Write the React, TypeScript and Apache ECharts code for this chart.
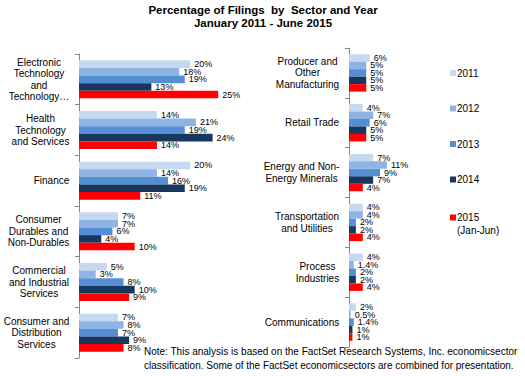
import React, { useEffect, useRef } from "react";
import * as echarts from "echarts";

const FONT = "Liberation Sans, Arial, sans-serif";

const years = ["2011", "2012", "2013", "2014", "2015 (Jan-Jun)"];
const colors = ["#C6D9F1", "#8EB4E3", "#558ED5", "#17375E", "#FF0000"];

const leftCategories = [
  "Electronic\nTechnology\nand\nTechnology…",
  "Health\nTechnology\nand Services",
  "Finance",
  "Consumer\nDurables and\nNon-Durables",
  "Commercial\nand Industrial\nServices",
  "Consumer and\nDistribution\nServices",
];
const left2011 = [20, 14, 20, 7, 5, 7];
const left2012 = [18, 21, 14, 7, 3, 8];
const left2013 = [19, 19, 16, 6, 8, 7];
const left2014 = [13, 24, 19, 4, 10, 9];
const left2015 = [25, 14, 11, 10, 9, 8];

const rightCategories = [
  "Producer and\nOther\nManufacturing",
  "Retail Trade",
  "Energy and Non-\nEnergy Minerals",
  "Transportation\nand Utilities",
  "Process\nIndustries",
  "Communications",
];
const right2011 = [6, 4, 7, 4, 4, 2];
const right2012 = [5, 7, 11, 4, 1.4, 0.5];
const right2013 = [5, 6, 9, 2, 2, 1.4];
const right2014 = [5, 5, 7, 2, 2, 1];
const right2015 = [5, 5, 4, 4, 4, 1];

const titleText = "Percentage of Filings  by  Sector and Year\nJanuary 2011 - June 2015";
const noteLines = [
  "Note: This analysis is based on the FactSet Research Systems, Inc. economicsector",
  "classification. Some of the FactSet economicsectors are combined for presentation.",
];

function measure(text: string, size: number): number {
  const c = document.createElement("canvas").getContext("2d");
  if (!c) return text.length * size * 0.55;
  c.font = `${size}px ${FONT}`;
  return c.measureText(text).width;
}

function buildLabel(cats: string[]) {
  const rich: Record<string, any> = {};
  cats.forEach((cat, i) => {
    const w = Math.max(...cat.split("\n").map((l) => measure(l, 10)));
    rich["c" + i] = {
      width: Math.ceil(w) + 1,
      align: "center",
      fontSize: 10,
      lineHeight: 11.5,
      fontFamily: FONT,
      color: "#000",
    };
  });
  const formatter = (value: string) => {
    const i = cats.indexOf(value);
    return value
      .split("\n")
      .map((l) => `{c${i}|${l}}`)
      .join("\n");
  };
  return { rich, formatter };
}

export default function App() {
  const ref = useRef<HTMLDivElement>(null);
  useEffect(() => {
    if (!ref.current) return;
    const chart = echarts.init(ref.current, null, { renderer: "svg" });
    const leftLab = buildLabel(leftCategories);
    const rightLab = buildLabel(rightCategories);
    const leftData = [left2011, left2012, left2013, left2014, left2015];
    const rightData = [right2011, right2012, right2013, right2014, right2015];

    const yAxisCommon = (cats: string[], lab: any, gridIndex: number) => ({
      type: "category",
      gridIndex,
      data: cats,
      inverse: true,
      axisLine: { show: true, lineStyle: { color: "#868686", width: 1 } },
      axisTick: { show: true, length: 4, lineStyle: { color: "#868686" }, interval: 0 },
      axisLabel: {
        interval: 0,
        margin: 9,
        align: "right",
        formatter: lab.formatter,
        rich: lab.rich,
      },
    });

    const mkSeries = (data: number[][], idx: number) =>
      data.map((vals, i) => ({
        type: "bar",
        name: years[i],
        xAxisIndex: idx,
        yAxisIndex: idx,
        data: vals,
        barGap: "0%",
        barCategoryGap: "25%",
        itemStyle: { color: colors[i] },
        label: {
          show: true,
          position: "right",
          distance: 4,
          formatter: "{c}%",
          fontSize: 9,
          fontFamily: FONT,
          color: "#000",
        },
      }));

    chart.setOption({
      animation: false,
      textStyle: { fontFamily: FONT },
      title: {
        text: titleText,
        left: 263,
        textAlign: "center",
        top: 3,
        padding: 0,
        textStyle: { fontSize: 11.5, fontWeight: "bold", color: "#000", lineHeight: 13.5, fontFamily: FONT },
      },
      legend: [
        {
          data: years.slice(0, 4),
          orient: "vertical",
          left: 445,
          top: 63,
          itemWidth: 6,
          itemHeight: 6,
          itemGap: 25.5,
          icon: "rect",
          textStyle: { fontSize: 10, color: "#000", fontFamily: FONT, padding: [0, 0, 0, -4] },
        },
        {
          data: [years[4]],
          orient: "vertical",
          left: 445,
          top: 193,
          itemWidth: 6,
          itemHeight: 6,
          icon: "rect",
          formatter: () => " \n2015\n(Jan-Jun)",
          textStyle: { fontSize: 10, color: "#000", lineHeight: 13, fontFamily: FONT, padding: [0, 0, 0, -4] },
        },
      ],
      grid: [
        { left: 78, top: 54, width: 168, height: 304 },
        { left: 349, top: 48, width: 69, height: 299 },
      ],
      xAxis: [
        { type: "value", gridIndex: 0, min: 0, max: 30, show: false },
        { type: "value", gridIndex: 1, min: 0, max: 20, show: false },
      ],
      yAxis: [yAxisCommon(leftCategories, leftLab, 0), yAxisCommon(rightCategories, rightLab, 1)],
      series: [...mkSeries(leftData, 0), ...mkSeries(rightData, 1)],
      graphic: noteLines.map((t, i) => ({
        type: "text",
        left: 144,
        top: 346 + i * 14,
        style: { text: t, fontSize: 10, fill: "#000", fontFamily: FONT },
      })),
    });
    return () => chart.dispose();
  }, []);
  return <div ref={ref} style={{ width: 525, height: 376, position: "absolute", left: 0, top: 0 }} />;
}
